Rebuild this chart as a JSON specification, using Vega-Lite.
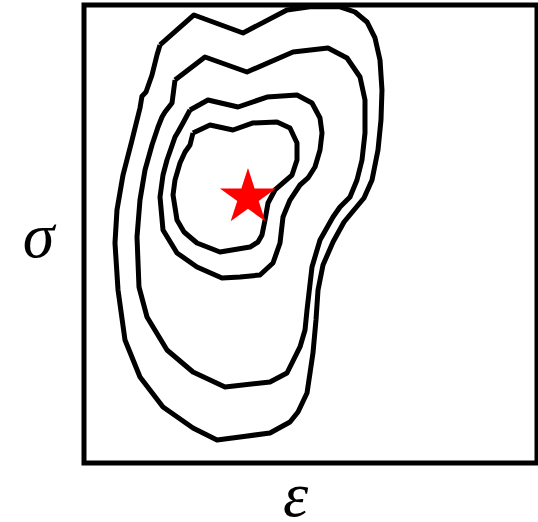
{
  "$schema": "https://vega.github.io/schema/vega-lite/v6.json",
  "autosize": {"type": "none"},
  "width": 453,
  "height": 458,
  "padding": {"left": 84, "top": 5, "right": 1, "bottom": 59},
  "background": "white",
  "config": {
    "view": {"stroke": "black", "strokeWidth": 5},
    "axis": {
      "domain": false, "ticks": false, "labels": false, "grid": false,
      "titleFont": "Liberation Serif", "titleFontStyle": "italic",
      "titleFontWeight": "normal", "titleFontSize": 64, "titleColor": "black"
    }
  },
  "datasets": {
    "contours": [
      {"c": 4, "i": 0, "e": 16.78, "s": 91.27}, {"c": 4, "i": 1, "e": 24.28, "s": 97.82},
      {"c": 4, "i": 2, "e": 35.10, "s": 93.89}, {"c": 4, "i": 3, "e": 44.81, "s": 98.91},
      {"c": 4, "i": 4, "e": 49.89, "s": 99.6}, {"c": 4, "i": 5, "e": 56.51, "s": 99.6},
      {"c": 4, "i": 6, "e": 59.82, "s": 98.47}, {"c": 4, "i": 7, "e": 62.47, "s": 96.29},
      {"c": 4, "i": 8, "e": 64.24, "s": 92.80}, {"c": 4, "i": 9, "e": 65.34, "s": 87.99},
      {"c": 4, "i": 10, "e": 65.78, "s": 81.44}, {"c": 4, "i": 11, "e": 65.56, "s": 74.89},
      {"c": 4, "i": 12, "e": 64.90, "s": 68.34}, {"c": 4, "i": 13, "e": 63.58, "s": 61.79},
      {"c": 4, "i": 14, "e": 61.81, "s": 57.86}, {"c": 4, "i": 15, "e": 59.60, "s": 55.24},
      {"c": 4, "i": 16, "e": 57.40, "s": 52.62}, {"c": 4, "i": 17, "e": 54.97, "s": 48.25},
      {"c": 4, "i": 18, "e": 52.76, "s": 43.23}, {"c": 4, "i": 19, "e": 51.66, "s": 37.77},
      {"c": 4, "i": 20, "e": 51.21, "s": 31.22}, {"c": 4, "i": 21, "e": 50.55, "s": 24.02},
      {"c": 4, "i": 22, "e": 49.23, "s": 15.28}, {"c": 4, "i": 23, "e": 47.24, "s": 11.14},
      {"c": 4, "i": 24, "e": 45.47, "s": 8.95}, {"c": 4, "i": 25, "e": 41.06, "s": 6.55},
      {"c": 4, "i": 26, "e": 34.44, "s": 5.68}, {"c": 4, "i": 27, "e": 29.36, "s": 5.02},
      {"c": 4, "i": 28, "e": 24.06, "s": 7.64}, {"c": 4, "i": 29, "e": 17.44, "s": 12.23},
      {"c": 4, "i": 30, "e": 12.36, "s": 18.78}, {"c": 4, "i": 31, "e": 9.05, "s": 26.86},
      {"c": 4, "i": 32, "e": 7.51, "s": 37.77}, {"c": 4, "i": 33, "e": 6.84, "s": 48.03},
      {"c": 4, "i": 34, "e": 7.28, "s": 55.24}, {"c": 4, "i": 35, "e": 8.61, "s": 62.88},
      {"c": 4, "i": 36, "e": 10.60, "s": 70.52}, {"c": 4, "i": 37, "e": 12.36, "s": 77.51},
      {"c": 4, "i": 38, "e": 12.80, "s": 80.10}, {"c": 4, "i": 39, "e": 13.69, "s": 81.00},
      {"c": 4, "i": 40, "e": 15.01, "s": 84.72}, {"c": 4, "i": 41, "e": 16.11, "s": 89.08},
      {"c": 4, "i": 42, "e": 16.78, "s": 91.27},

      {"c": 3, "i": 0, "e": 20.09, "s": 83.62}, {"c": 3, "i": 1, "e": 26.71, "s": 88.65},
      {"c": 3, "i": 2, "e": 35.98, "s": 85.37}, {"c": 3, "i": 3, "e": 46.14, "s": 89.74},
      {"c": 3, "i": 4, "e": 53.86, "s": 90.61}, {"c": 3, "i": 5, "e": 58.06, "s": 88.43},
      {"c": 3, "i": 6, "e": 60.93, "s": 84.28}, {"c": 3, "i": 7, "e": 62.03, "s": 79.26},
      {"c": 3, "i": 8, "e": 62.03, "s": 72.05}, {"c": 3, "i": 9, "e": 61.37, "s": 66.16},
      {"c": 3, "i": 10, "e": 60.26, "s": 61.79}, {"c": 3, "i": 11, "e": 58.72, "s": 58.08},
      {"c": 3, "i": 12, "e": 56.51, "s": 55.90}, {"c": 3, "i": 13, "e": 54.97, "s": 53.71},
      {"c": 3, "i": 14, "e": 52.10, "s": 48.69}, {"c": 3, "i": 15, "e": 50.33, "s": 42.80},
      {"c": 3, "i": 16, "e": 49.23, "s": 33.41}, {"c": 3, "i": 17, "e": 48.79, "s": 29.04},
      {"c": 3, "i": 18, "e": 47.68, "s": 25.33}, {"c": 3, "i": 19, "e": 44.81, "s": 19.65},
      {"c": 3, "i": 20, "e": 41.06, "s": 17.69}, {"c": 3, "i": 21, "e": 31.13, "s": 16.59},
      {"c": 3, "i": 22, "e": 24.06, "s": 19.87}, {"c": 3, "i": 23, "e": 18.32, "s": 24.67},
      {"c": 3, "i": 24, "e": 13.91, "s": 31.88}, {"c": 3, "i": 25, "e": 12.14, "s": 38.43},
      {"c": 3, "i": 26, "e": 11.70, "s": 49.35}, {"c": 3, "i": 27, "e": 12.36, "s": 57.42},
      {"c": 3, "i": 28, "e": 13.47, "s": 63.97}, {"c": 3, "i": 29, "e": 15.01, "s": 69.43},
      {"c": 3, "i": 30, "e": 16.34, "s": 73.36}, {"c": 3, "i": 31, "e": 17.22, "s": 75.55},
      {"c": 3, "i": 32, "e": 17.88, "s": 76.64}, {"c": 3, "i": 33, "e": 19.43, "s": 78.60},
      {"c": 3, "i": 34, "e": 20.09, "s": 83.62},

      {"c": 2, "i": 0, "e": 23.40, "s": 77.07}, {"c": 2, "i": 1, "e": 27.37, "s": 79.26},
      {"c": 2, "i": 2, "e": 34.00, "s": 77.73}, {"c": 2, "i": 3, "e": 40.40, "s": 79.91},
      {"c": 2, "i": 4, "e": 47.02, "s": 80.35}, {"c": 2, "i": 5, "e": 50.33, "s": 78.60},
      {"c": 2, "i": 6, "e": 52.10, "s": 75.33}, {"c": 2, "i": 7, "e": 52.54, "s": 72.05},
      {"c": 2, "i": 8, "e": 52.10, "s": 68.34}, {"c": 2, "i": 9, "e": 50.99, "s": 64.63},
      {"c": 2, "i": 10, "e": 49.45, "s": 62.23}, {"c": 2, "i": 11, "e": 47.68, "s": 60.70},
      {"c": 2, "i": 12, "e": 45.47, "s": 57.42}, {"c": 2, "i": 13, "e": 43.93, "s": 53.71},
      {"c": 2, "i": 14, "e": 43.27, "s": 48.03}, {"c": 2, "i": 15, "e": 41.72, "s": 43.67},
      {"c": 2, "i": 16, "e": 38.85, "s": 41.05}, {"c": 2, "i": 17, "e": 34.44, "s": 40.61},
      {"c": 2, "i": 18, "e": 30.46, "s": 40.39}, {"c": 2, "i": 19, "e": 24.94, "s": 42.80},
      {"c": 2, "i": 20, "e": 20.53, "s": 45.85}, {"c": 2, "i": 21, "e": 17.44, "s": 50.87},
      {"c": 2, "i": 22, "e": 16.78, "s": 58.08}, {"c": 2, "i": 23, "e": 17.44, "s": 62.88},
      {"c": 2, "i": 24, "e": 18.32, "s": 66.16}, {"c": 2, "i": 25, "e": 20.09, "s": 71.18},
      {"c": 2, "i": 26, "e": 20.75, "s": 72.27}, {"c": 2, "i": 27, "e": 21.85, "s": 74.24},
      {"c": 2, "i": 28, "e": 23.40, "s": 77.07},

      {"c": 1, "i": 0, "e": 24.06, "s": 72.05}, {"c": 1, "i": 1, "e": 27.81, "s": 73.80},
      {"c": 1, "i": 2, "e": 32.89, "s": 72.71}, {"c": 1, "i": 3, "e": 37.31, "s": 74.24},
      {"c": 1, "i": 4, "e": 42.60, "s": 74.45}, {"c": 1, "i": 5, "e": 45.47, "s": 73.14},
      {"c": 1, "i": 6, "e": 47.02, "s": 69.87}, {"c": 1, "i": 7, "e": 47.02, "s": 66.16},
      {"c": 1, "i": 8, "e": 45.92, "s": 62.88}, {"c": 1, "i": 9, "e": 43.93, "s": 61.14},
      {"c": 1, "i": 10, "e": 42.16, "s": 59.61}, {"c": 1, "i": 11, "e": 40.62, "s": 56.77},
      {"c": 1, "i": 12, "e": 39.96, "s": 53.06}, {"c": 1, "i": 13, "e": 39.29, "s": 49.78},
      {"c": 1, "i": 14, "e": 38.41, "s": 48.25}, {"c": 1, "i": 15, "e": 36.64, "s": 47.16},
      {"c": 1, "i": 16, "e": 30.02, "s": 46.07}, {"c": 1, "i": 17, "e": 24.94, "s": 48.03},
      {"c": 1, "i": 18, "e": 22.08, "s": 50.44}, {"c": 1, "i": 19, "e": 20.53, "s": 53.06},
      {"c": 1, "i": 20, "e": 19.65, "s": 58.52}, {"c": 1, "i": 21, "e": 20.09, "s": 61.79},
      {"c": 1, "i": 22, "e": 21.19, "s": 65.50}, {"c": 1, "i": 23, "e": 22.30, "s": 67.90},
      {"c": 1, "i": 24, "e": 23.40, "s": 69.43}, {"c": 1, "i": 25, "e": 24.06, "s": 72.05}
    ],
    "best": [{"e": 36.20, "s": 57.97}]
  },
  "layer": [
    {
      "data": {"name": "contours"},
      "mark": {"type": "line", "color": "black", "strokeWidth": 5, "strokeJoin": "round", "clip": true},
      "encoding": {
        "x": {"field": "e", "type": "quantitative", "scale": {"domain": [0, 100], "nice": false, "zero": false},
              "axis": {"title": "ε", "titleX": 211, "titleY": 52, "titleAlign": "center", "titleBaseline": "alphabetic"}},
        "y": {"field": "s", "type": "quantitative", "scale": {"domain": [0, 100], "nice": false, "zero": false},
              "axis": {"title": "σ", "titleAngle": 0, "titleX": -46, "titleY": 251, "titleAlign": "center", "titleBaseline": "alphabetic"}},
        "detail": {"field": "c", "type": "nominal"},
        "order": {"field": "i", "type": "quantitative"}
      }
    },
    {
      "data": {"name": "best"},
      "mark": {
        "type": "point", "filled": true, "color": "red", "opacity": 1, "size": 3481,
        "shape": "M0,-1L0.2245,-0.309L0.951,-0.309L0.363,0.118L0.588,0.809L0,0.382L-0.588,0.809L-0.363,0.118L-0.951,-0.309L-0.2245,-0.309Z"
      },
      "encoding": {
        "x": {"field": "e", "type": "quantitative"},
        "y": {"field": "s", "type": "quantitative"}
      }
    }
  ]
}
